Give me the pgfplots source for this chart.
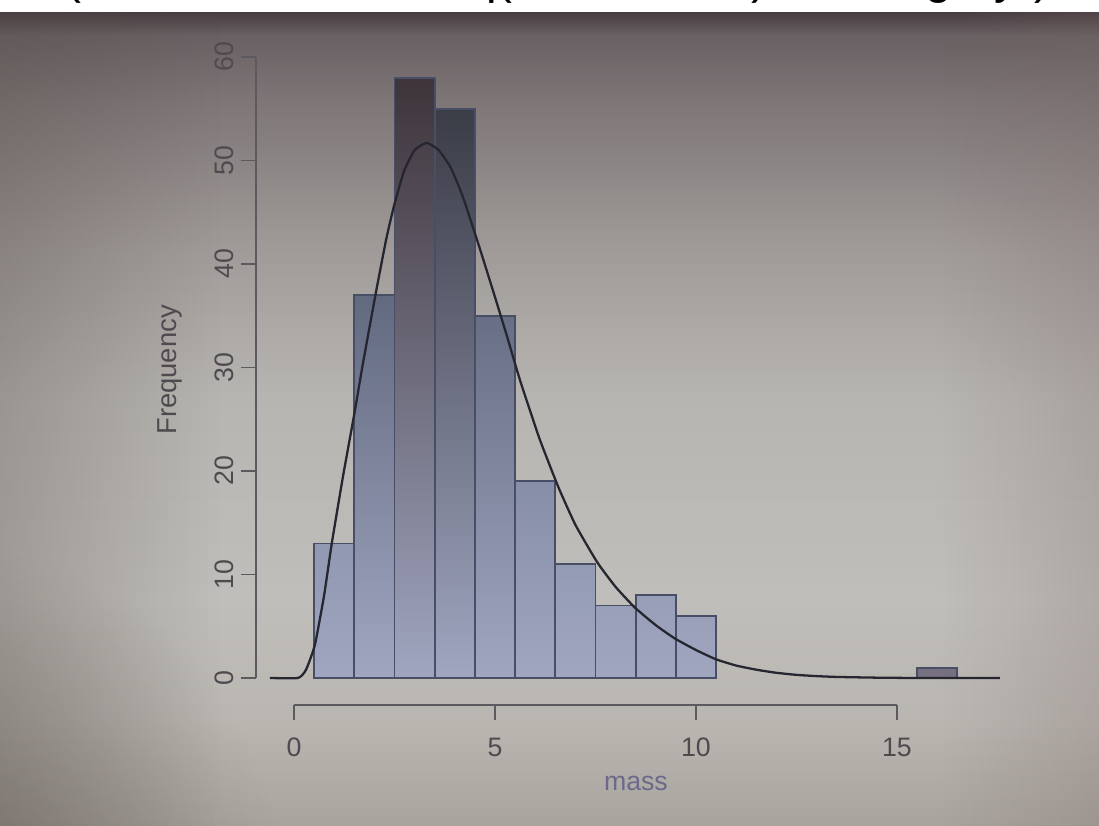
\documentclass[border=0pt]{standalone}
\usepackage{fontspec}
\setmainfont{Liberation Sans}
\usepackage{pgfplots}
\pgfplotsset{compat=1.18}
\usetikzlibrary{fadings}

% soft radial spot, opaque in the middle
\tikzfading[name=softspot, inner color=transparent!0, outer color=transparent!100]

% screen background tones
\definecolor{bgBot}{RGB}{180,176,170}
\definecolor{bgLow}{RGB}{192,190,186}
\definecolor{bgMid}{RGB}{183,181,177}
\definecolor{bgUp}{RGB}{160,155,153}
\definecolor{bgHigh}{RGB}{125,117,118}
\definecolor{bgTop}{RGB}{104,96,98}
\definecolor{bezel}{RGB}{70,58,62}
\definecolor{vigL}{RGB}{85,76,70}
\definecolor{vigR}{RGB}{120,98,98}
% histogram tones (darker towards the top of the screen)
\definecolor{barBase}{RGB}{160,166,192}
\definecolor{barLine}{RGB}{72,78,102}
\definecolor{curveCol}{RGB}{38,38,48}
\definecolor{axisGrey}{RGB}{92,90,94}
\definecolor{labelGrey}{RGB}{78,74,80}
\definecolor{massCol}{RGB}{112,104,140}

\begin{document}
\begin{tikzpicture}[x=1cm,y=1cm]
\path[use as bounding box, clip] (0,0) rectangle (10.99,8.26);

% background of the photographed screen
\shade[bottom color=bgBot, top color=bgLow] (0,-0.01) rectangle (10.99,2.27);
\shade[bottom color=bgLow, top color=bgMid] (0,2.26) rectangle (10.99,4.27);
\shade[bottom color=bgMid, top color=bgUp] (0,4.26) rectangle (10.99,5.77);
\shade[bottom color=bgUp, top color=bgHigh] (0,5.76) rectangle (10.99,7.27);
\shade[bottom color=bgHigh, top color=bgTop] (0,7.26) rectangle (10.99,7.92);
\shade[bottom color=bgTop, top color=bezel] (0,7.91) rectangle (10.99,8.15);
\fill[vigL, opacity=0.30, path fading=east] (0,0) rectangle (2.2,8.2);
\fill[vigL, opacity=0.35, path fading=softspot] (-0.6,-0.6) circle (3.4);
\fill[vigL, opacity=0.12, path fading=north] (0,0) rectangle (10.99,1.0);
\fill[vigR, opacity=0.22, path fading=west] (9.4,0) rectangle (10.99,8.2);

% strip of the code window above the screen
\fill[white] (0,8.14) rectangle (10.99,8.27);
\node[anchor=base west, inner sep=0pt, text=black, font=\fontsize{13.6}{16}\selectfont]
  at (-0.1,8.32) {hist(mass, breaks = seq(0.5, 16.5, 1), col = "grey"); curve(dgamma(x, shape = 4.7, scale = 0.9) * length(mass), add = TRUE)};

\begin{axis}[
  at={(2.558cm,1.211cm)}, anchor=south west,
  scale only axis, width=7.618cm, height=6.686cm,
  xmin=-0.95, xmax=18, ymin=-2.6, ymax=62,
  clip=false,
  axis line style={draw=none},
  xtick={0,5,10,15}, ytick={0,10,20,30,40,50,60},
  xtick pos=bottom, ytick pos=left,
  tick align=outside, major tick length=0.15cm,
  tick style={draw=axisGrey, line width=0.45pt},
  /pgf/number format/assume math mode=true,
  tick label style={font=\fontsize{7.6}{9}\selectfont, text=labelGrey},
  yticklabel style={rotate=90, anchor=south},
  yticklabel shift=-0.05cm,
  xticklabel style={anchor=north, yshift=-0.06cm},
  xlabel={mass}, ylabel={Frequency},
  xlabel style={at={(axis description cs:0.499,-0.1168)}, anchor=center,
                font=\fontsize{7.6}{9}\selectfont, text=massCol},
  ylabel style={at={(axis description cs:-0.1126,0.501)}, anchor=center,
                font=\fontsize{7.8}{9}\selectfont, text=labelGrey},
]

% R-style axis lines
\addplot[axisGrey, line width=0.45pt] coordinates {(0,-2.6) (15,-2.6)};
\addplot[axisGrey, line width=0.45pt] coordinates {(-0.95,0) (-0.95,60)};

% histogram of mass, bins of width 1
\addplot[ybar interval, draw=barLine, line width=0.5pt, bottom color=barBase, top color={rgb,255:red,145;green,152;blue,178}] coordinates {(0.5,13) (1.5,13)};
\addplot[ybar interval, draw=barLine, line width=0.5pt, bottom color=barBase, middle color={rgb,255:red,136;green,143;blue,169}, top color={rgb,255:red,98;green,106;blue,128}] coordinates {(1.5,37) (2.5,37)};
\addplot[ybar interval, draw=barLine, line width=0.5pt, bottom color=barBase, middle color={rgb,255:red,106;green,114;blue,136}, top color={rgb,255:red,62;green,52;blue,58}] coordinates {(2.5,58) (3.5,58)};
\addplot[ybar interval, draw=barLine, line width=0.5pt, bottom color=barBase, middle color={rgb,255:red,108;green,116;blue,138}, top color={rgb,255:red,58;green,60;blue,70}] coordinates {(3.5,55) (4.5,55)};
\addplot[ybar interval, draw=barLine, line width=0.5pt, bottom color=barBase, middle color={rgb,255:red,138;green,145;blue,170}, top color={rgb,255:red,104;green,111;blue,133}] coordinates {(4.5,35) (5.5,35)};
\addplot[ybar interval, draw=barLine, line width=0.5pt, bottom color=barBase, top color={rgb,255:red,135;green,142;blue,168}] coordinates {(5.5,19) (6.5,19)};
\addplot[ybar interval, draw=barLine, line width=0.5pt, bottom color=barBase, top color={rgb,255:red,148;green,155;blue,181}] coordinates {(6.5,11) (7.5,11)};
\addplot[ybar interval, draw=barLine, line width=0.5pt, bottom color=barBase, top color={rgb,255:red,153;green,159;blue,185}] coordinates {(7.5,7) (8.5,7)};
\addplot[ybar interval, draw=barLine, line width=0.5pt, bottom color=barBase, top color={rgb,255:red,152;green,158;blue,184}] coordinates {(8.5,8) (9.5,8)};
\addplot[ybar interval, draw=barLine, line width=0.5pt, bottom color=barBase, top color={rgb,255:red,154;green,160;blue,186}] coordinates {(9.5,6) (10.5,6)};
\addplot[ybar interval, draw=barLine, line width=0.5pt, fill={rgb,255:red,118;green,112;blue,128}] coordinates {(15.5,1) (16.5,1)};

% fitted density, scaled to counts
\addplot[curveCol, line width=0.65pt, smooth, tension=0.3] coordinates {
  (-0.6,0) (0.1,0) (0.3,0.8) (0.52,3.2) (0.75,8) (0.94,13) (1.22,19.5)
  (1.5,25.5) (1.72,30.5) (2.05,37.5) (2.3,42.5) (2.5,45.8) (2.74,49)
  (3.0,51) (3.3,51.7) (3.6,51) (3.9,49.3) (4.2,46.5) (4.63,41.4)
  (5.04,36.3) (5.3,33) (5.62,28.8) (6.1,23.2) (6.57,18.5) (7.0,14.8)
  (7.54,11.2) (8.0,8.8) (8.48,6.8) (9.0,5.1) (9.48,3.8) (10.0,2.7)
  (10.5,1.8) (11.0,1.2) (11.5,0.8) (12.0,0.5) (12.5,0.3) (13.0,0.18)
  (13.5,0.1) (14.5,0.03) (15.5,0) (17.56,0)};
\end{axis}
\end{tikzpicture}
\end{document}
